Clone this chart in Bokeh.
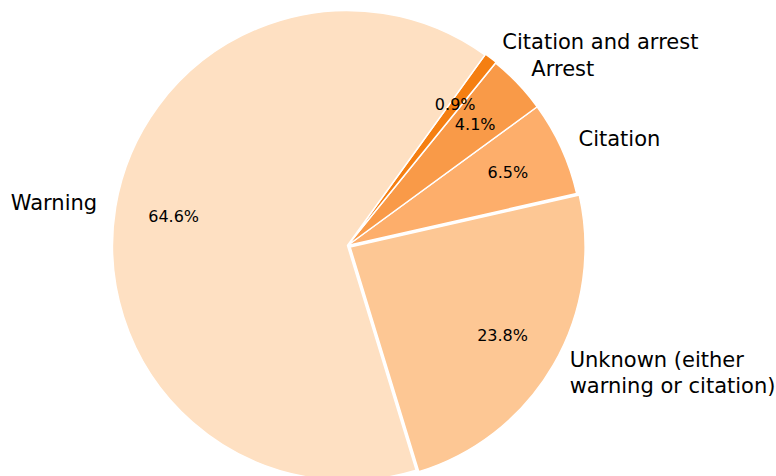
import math
from bokeh.plotting import figure
from bokeh.models import Range1d, ColumnDataSource
from bokeh.core.properties import value
from bokeh.embed import file_html
from bokeh.resources import INLINE

# Data (counter-clockwise order, starting at the lower boundary of "Unknown")
categories = ["Unknown (either\nwarning or citation)", "Citation", "Arrest",
              "Citation and arrest", "Warning"]
shares = [23.8, 6.5, 4.1, 0.9, 64.6]
pct_labels = ["23.8%", "6.5%", "4.1%", "0.9%", "64.6%"]
colors = ["#fdc794", "#fdae6b", "#f99a48", "#f57f12", "#fee0c2"]
explode = [3.0, 0.0, 0.0, 1.0, 0.0]

W, H = 776, 476
cx, cy = 347, 231
R = 235
start_deg = -73.0

p = figure(width=W, height=H, output_backend="svg", toolbar_location=None,
           x_range=Range1d(0, W), y_range=Range1d(0, H), min_border=0,
           x_axis_type=None, y_axis_type=None)
p.grid.visible = False
p.outline_line_color = None
p.background_fill_color = "white"

total = sum(shares)
starts, ends, xs, ys = [], [], [], []
lx, ly, align = [], [], []
px, py = [], []
a = math.radians(start_deg)
for s, e in zip(shares, explode):
    span = 2 * math.pi * s / total
    mid = a + span / 2
    starts.append(a)
    ends.append(a + span)
    ox, oy = cx + e * math.cos(mid), cy + e * math.sin(mid)
    xs.append(ox)
    ys.append(oy)
    lx.append(ox + 1.08 * R * math.cos(mid))
    ly.append(oy + 1.08 * R * math.sin(mid) + 1.5)
    align.append("left" if math.cos(mid) > 0 else "right")
    px.append(ox + 0.75 * R * math.cos(mid))
    py.append(oy + 0.75 * R * math.sin(mid))
    a += span

src = ColumnDataSource(dict(x=xs, y=ys, start=starts, end=ends, color=colors))
p.wedge(x="x", y="y", radius=R, start_angle="start", end_angle="end",
        direction="anticlock", fill_color="color", line_color="white",
        line_width=1.5, source=src)

lsrc = ColumnDataSource(dict(x=lx, y=ly, text=categories, align=align))
p.text(x="x", y="y", text="text", text_align="align", text_baseline="middle",
       text_font=value("DejaVu Sans"), text_font_size="21px",
       text_color="black", text_line_height=1.1, source=lsrc)

psrc = ColumnDataSource(dict(x=px, y=py, text=pct_labels))
p.text(x="x", y="y", text="text", text_align="center", text_baseline="middle",
       text_font=value("DejaVu Sans"), text_font_size="16px",
       text_color="black", source=psrc)

open("out.html", "w").write(file_html(p, INLINE))
